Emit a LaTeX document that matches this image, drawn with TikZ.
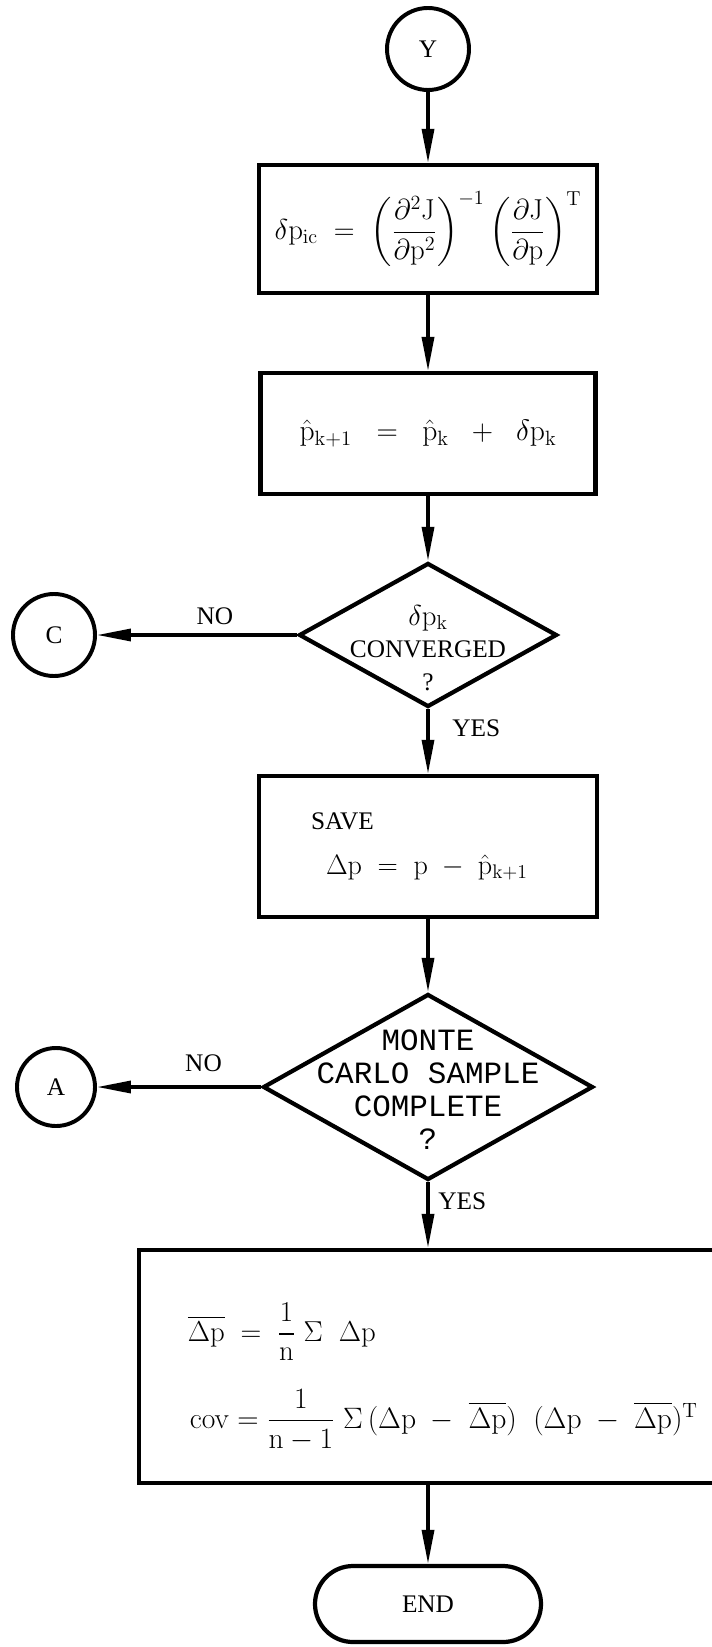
\RequirePackage{fix-cm}
\documentclass[tikz,border=0pt]{standalone}
\usepackage[no-math]{fontspec}
\setmainfont{Liberation Serif}
\newfontfamily\typefont{Liberation Mono}
\usepackage{tikz}
\usetikzlibrary{shapes, arrows.meta, positioning, calc}
\usepackage{amsmath, amssymb}

\begin{document}
\begin{tikzpicture}[
    every node/.style={font=\fontsize{18}{23}\selectfont},
    mathfont/.style={font=\fontsize{20.5}{25}\selectfont},
    procbox/.style={draw, line width=3pt, inner sep=0pt},
    decision/.style={draw, diamond, line width=3pt, inner sep=0pt},
    connector/.style={draw, circle, line width=2.8pt, minimum size=2.05cm, inner sep=0pt},
    flow/.style={line width=2.4pt, -{Triangle[length=0.85cm, width=0.3cm]}}
  ]
  \useasboundingbox (0, 0) rectangle (17.775, -41.175);

  % Entry point
  \node[connector] (Y) at (10.7, -1.225) {Y};

  % Correction and update
  \node[procbox, mathfont, minimum width=8.45cm, minimum height=3.2cm] (corr) at (10.7, -5.725)
    {$\delta\mathrm{p}_{\mathrm{ic}} \;=\; \left(\dfrac{\partial^2\mathrm{J}}{\partial\mathrm{p}^2}\right)^{-1} \left(\dfrac{\partial\mathrm{J}}{\partial\mathrm{p}}\right)^{\mathrm{T}}$};
  \node[procbox, font=\fontsize{21}{25}\selectfont, minimum width=8.375cm, minimum height=3.025cm] (update) at (10.7, -10.84)
    {$\hat{\mathrm{p}}_{\mathrm{k+1}} \;\;=\;\; \hat{\mathrm{p}}_{\mathrm{k}} \;\;+\;\; \delta\mathrm{p}_{\mathrm{k}}$};

  % Convergence test
  \node[decision, minimum width=6.45cm, minimum height=3.6cm] (conv) at (10.7, -15.875) {};
  \node[align=center] (convtxt) at (10.7, -16.2)
    {{\fontsize{20.5}{25}\selectfont$\delta\mathrm{p}_{\mathrm{k}}$}\\CONVERGED\\?};
  \node[connector] (C) at (1.35, -15.875) {C};

  % Save deviation
  \node[procbox, minimum width=8.45cm, minimum height=3.525cm, text width=5.85cm,
        align=left, inner xsep=1.3cm] (save) at (10.7, -21.16)
    {SAVE\\[0.3cm]\hspace*{0.375cm}{\fontsize{20}{25}\selectfont$\Delta\mathrm{p} \;=\; \mathrm{p} \;-\; \hat{\mathrm{p}}_{\mathrm{k+1}}$}};

  % Monte Carlo test
  \node[decision, minimum width=8.25cm, minimum height=4.65cm] (mc) at (10.7, -27.175) {};
  \node[align=center, font=\typefont\fontsize{22}{23.5}\selectfont] (mctxt) at (10.7, -27.25)
    {MONTE\\CARLO SAMPLE\\COMPLETE\\?};
  \node[connector, minimum size=1.95cm] (A) at (1.4, -27.175) {A};

  % Statistics
  \node[procbox, minimum width=14.525cm, minimum height=5.825cm] (stats) at (10.7375, -34.1625) {};
  \node[mathfont, anchor=west] (mean) at (4.57, -33.3)
    {$\overline{\Delta\mathrm{p}} \;=\; \dfrac{1}{\mathrm{n}}\;\Sigma\;\;\Delta\mathrm{p}$};
  \node[font=\fontsize{21}{25}\selectfont, anchor=west] (cov) at (4.62, -35.5)
    {$\mathrm{cov} = \dfrac{1}{\mathrm{n}-1}\;\Sigma\,(\Delta\mathrm{p} \;-\; \overline{\Delta\mathrm{p}})\;\;(\Delta\mathrm{p} \;-\; \overline{\Delta\mathrm{p}})^{\mathrm{T}}$};

  \node[draw, line width=3pt, rounded corners=0.95cm, minimum width=5.65cm,
        minimum height=1.9cm] (end) at (10.7, -40.1) {END};

  % Flow lines
  \draw[flow] (Y) -- (corr);
  \draw[flow] (corr) -- (update);
  \draw[flow] (update) -- (conv);
  \draw[flow] (conv) -- node[above=3pt, pos=0.41] (no1) {NO} (C);
  \draw[flow] (conv) -- node[right=0.45cm, pos=0.3] (yes1) {YES} (save);
  \draw[flow] (save) -- (mc);
  \draw[flow] (mc) -- node[above=6pt, pos=0.35] (no2) {NO} (A);
  \draw[flow] (mc.south) -- node[right=0.1cm, pos=0.29] (yes2) {YES} (mc.south |- stats.north);
  \draw[flow] (end.north |- stats.south) -- (end);
\end{tikzpicture}
\end{document}
